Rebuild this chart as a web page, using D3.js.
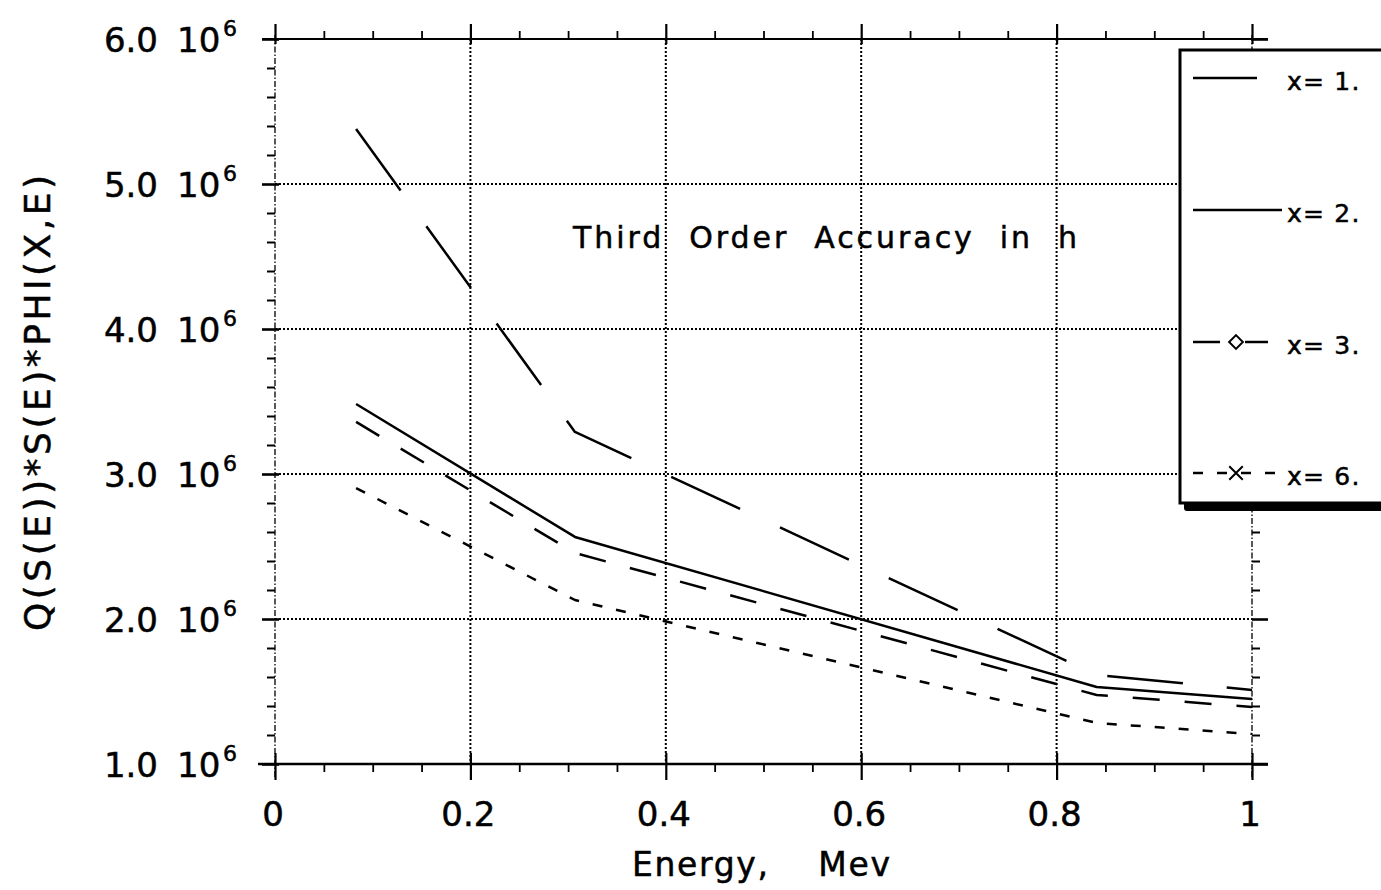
<!DOCTYPE html>
<html>
<head>
<meta charset="utf-8">
<script src="https://cdn.jsdelivr.net/npm/d3@7"></script>
<style>
html,body{margin:0;padding:0;background:#fff;}
svg{display:block;}
text{font-family:"DejaVu Sans",sans-serif;fill:#000;stroke:#000;stroke-width:0.5px;}
</style>
</head>
<body>
<svg id="chart" width="1381" height="890"></svg>
<script>
// ---- data ----
const energy = [0.083, 0.307, 0.841, 1.0];
const seriesX1 = [5.38e6, 3.29e6, 1.614e6, 1.51e6];
const seriesX2 = [3.483e6, 2.566e6, 1.531e6, 1.448e6];
const seriesX3 = [3.359e6, 2.455e6, 1.476e6, 1.393e6];
const seriesX6 = [2.903e6, 2.131e6, 1.283e6, 1.207e6];
const seriesNames = ["x= 1.", "x= 2.", "x= 3.", "x= 6."];
const xTickValues = [0, 0.2, 0.4, 0.6, 0.8, 1];
const xTickLabels = ["0", "0.2", "0.4", "0.6", "0.8", "1"];
const yTickValues = [1e6, 2e6, 3e6, 4e6, 5e6, 6e6];
const yTickMantissa = ["1.0", "2.0", "3.0", "4.0", "5.0", "6.0"];
const yTickExp = "6";
const titleText = "Third  Order  Accuracy  in  h";
const xLabel = "Energy,    Mev";
const yLabel = "Q(S(E))*S(E)*PHI(X,E)";

// ---- styles ----
const styles = [
  {dash: "76,44", marker: null},
  {dash: null, marker: null},
  {dash: "27,25", marker: "diamond"},
  {dash: "10,14", marker: "cross"}
];
const allSeries = [seriesX1, seriesX2, seriesX3, seriesX6];

const svg = d3.select("#chart");
const X0 = 275, X1 = 1252, Y0 = 764, Y1 = 39;
const x = d3.scaleLinear().domain([0, 1]).range([X0, X1]);
const y = d3.scaleLinear().domain([1e6, 6e6]).range([Y0, Y1]);

const g = svg.append("g");

// grid lines (dotted)
const grid = g.append("g").attr("stroke", "#000").attr("stroke-width", 2).attr("stroke-dasharray", "2,2");
xTickValues.slice(1, -1).forEach(v => {
  grid.append("line").attr("x1", x(v)).attr("x2", x(v)).attr("y1", Y1).attr("y2", Y0);
});
yTickValues.slice(1, -1).forEach(v => {
  grid.append("line").attr("x1", X0).attr("x2", X1).attr("y1", y(v)).attr("y2", y(v));
});

// left & right axes (dash-dot thin)
[X0, X1].forEach(xx => {
  g.append("line").attr("x1", xx).attr("x2", xx).attr("y1", Y1 - 4).attr("y2", Y0 + 14)
    .attr("stroke", "#111").attr("stroke-width", 1.4).attr("stroke-dasharray", "6,2,1.5,2");
});
// top & bottom axes (solid)
g.append("line").attr("x1", 262).attr("x2", 1268).attr("y1", Y1).attr("y2", Y1).attr("stroke", "#000").attr("stroke-width", 2.2);
g.append("line").attr("x1", 258).attr("x2", 1268).attr("y1", Y0).attr("y2", Y0).attr("stroke", "#000").attr("stroke-width", 2.6);

const xMinor = d3.range(0, 1.0001, 0.05).filter(v => Math.abs(v * 5 - Math.round(v * 5)) > 1e-6);
const yMinor = d3.range(1e6, 6.0001e6, 0.2e6).filter(v => Math.abs(v / 1e6 - Math.round(v / 1e6)) > 1e-6);

function clean(a, w) {
  a.select(".domain").remove();
  a.selectAll("line").attr("stroke-width", w);
}
// bottom ticks
g.append("g").attr("transform", `translate(0,${Y0})`)
  .call(d3.axisBottom(x).tickValues(xMinor).tickSize(8).tickFormat("")).call(a => clean(a, 1.8));
g.append("g").attr("transform", `translate(0,${Y0 - 11})`)
  .call(d3.axisBottom(x).tickValues(xTickValues).tickSize(27).tickFormat("")).call(a => clean(a, 2.2));
// top ticks
g.append("g").attr("transform", `translate(0,${Y1})`)
  .call(d3.axisTop(x).tickValues(xMinor).tickSize(8).tickFormat("")).call(a => clean(a, 1.8));
g.append("g").attr("transform", `translate(0,${Y1 + 5})`)
  .call(d3.axisTop(x).tickValues(xTickValues).tickSize(20).tickFormat("")).call(a => clean(a, 2.2));
// left ticks
g.append("g").attr("transform", `translate(${X0},0)`)
  .call(d3.axisLeft(y).tickValues(yMinor).tickSize(8).tickFormat("")).call(a => clean(a, 2));
g.append("g").attr("transform", `translate(${X0 + 4},0)`)
  .call(d3.axisLeft(y).tickValues(yTickValues).tickSize(17).tickFormat("")).call(a => clean(a, 2.6));
// right ticks
g.append("g").attr("transform", `translate(${X1},0)`)
  .call(d3.axisRight(y).tickValues(yMinor).tickSize(8).tickFormat("")).call(a => clean(a, 2));
g.append("g").attr("transform", `translate(${X1},0)`)
  .call(d3.axisRight(y).tickValues(yTickValues).tickSize(16).tickFormat("")).call(a => clean(a, 2.6));

// tick labels
xTickValues.forEach((v, i) => {
  g.append("text").attr("x", x(v) - 2).attr("y", 826).attr("text-anchor", "middle")
    .attr("font-size", 34).text(xTickLabels[i]);
});
yTickValues.forEach((v, i) => {
  const yy = y(v);
  g.append("text").attr("x", 158).attr("y", yy + 13).attr("text-anchor", "end")
    .attr("font-size", 34).text(yTickMantissa[i]);
  g.append("text").attr("x", 177).attr("y", yy + 13).attr("text-anchor", "start")
    .attr("font-size", 34).text("10");
  g.append("text").attr("x", 223).attr("y", yy - 3).attr("text-anchor", "start")
    .attr("font-size", 22).text(yTickExp);
});

// series lines
const line = d3.line().x(d => x(d[0])).y(d => y(d[1]));
allSeries.forEach((s, i) => {
  const pts = energy.map((e, j) => [e, s[j]]);
  const p = g.append("path").datum(pts).attr("d", line)
    .attr("fill", "none").attr("stroke", "#000").attr("stroke-width", 2.5)
    .attr("stroke-linejoin", "round");
  if (styles[i].dash) p.attr("stroke-dasharray", styles[i].dash);
});

// title
g.append("text").attr("x", 573).attr("y", 248).attr("font-size", 30)
  .style("white-space", "pre")
  .attr("textLength", 504).attr("lengthAdjust", "spacing").text(titleText);

// axis labels
g.append("text").attr("x", 632).attr("y", 876).attr("font-size", 33)
  .style("white-space", "pre").attr("textLength", 258).attr("lengthAdjust", "spacing").text(xLabel);
g.append("text").attr("transform", "translate(50,631) rotate(-90)").attr("x", 0).attr("y", 0)
  .attr("font-size", 36).attr("textLength", 456).attr("lengthAdjust", "spacing").text(yLabel);

// legend
const lg = svg.append("g");
lg.append("rect").attr("x", 1184).attr("y", 55).attr("width", 260).attr("height", 456).attr("fill", "#000").attr("rx", 3);
lg.append("rect").attr("x", 1180).attr("y", 50).attr("width", 260).attr("height", 453)
  .attr("fill", "#fff").attr("stroke", "#000").attr("stroke-width", 3);
const legendY = [78, 210, 342, 473];
const legendX1 = [1257, 1282, 1268, 1275];
seriesNames.forEach((n, i) => {
  const ly = legendY[i];
  const l = lg.append("line").attr("x1", 1193).attr("x2", legendX1[i]).attr("y1", ly).attr("y2", ly)
    .attr("stroke", "#000").attr("stroke-width", 2.4);
  if (styles[i].dash) l.attr("stroke-dasharray", styles[i].dash);
  if (styles[i].marker === "diamond") {
    lg.append("path").attr("transform", `translate(1236,${ly})`)
      .attr("d", d3.symbol(d3.symbolDiamond2, 120)())
      .attr("fill", "#fff").attr("stroke", "#000").attr("stroke-width", 2);
  } else if (styles[i].marker === "cross") {
    lg.append("path").attr("transform", `translate(1236,${ly})`)
      .attr("d", d3.symbol(d3.symbolTimes, 120)())
      .attr("fill", "none").attr("stroke", "#000").attr("stroke-width", 2);
  }
  lg.append("text").attr("x", 1287).attr("y", ly + 12).attr("font-size", 25)
    .style("white-space", "pre").attr("letter-spacing", 1.2).text(n);
});
</script>
</body>
</html>
